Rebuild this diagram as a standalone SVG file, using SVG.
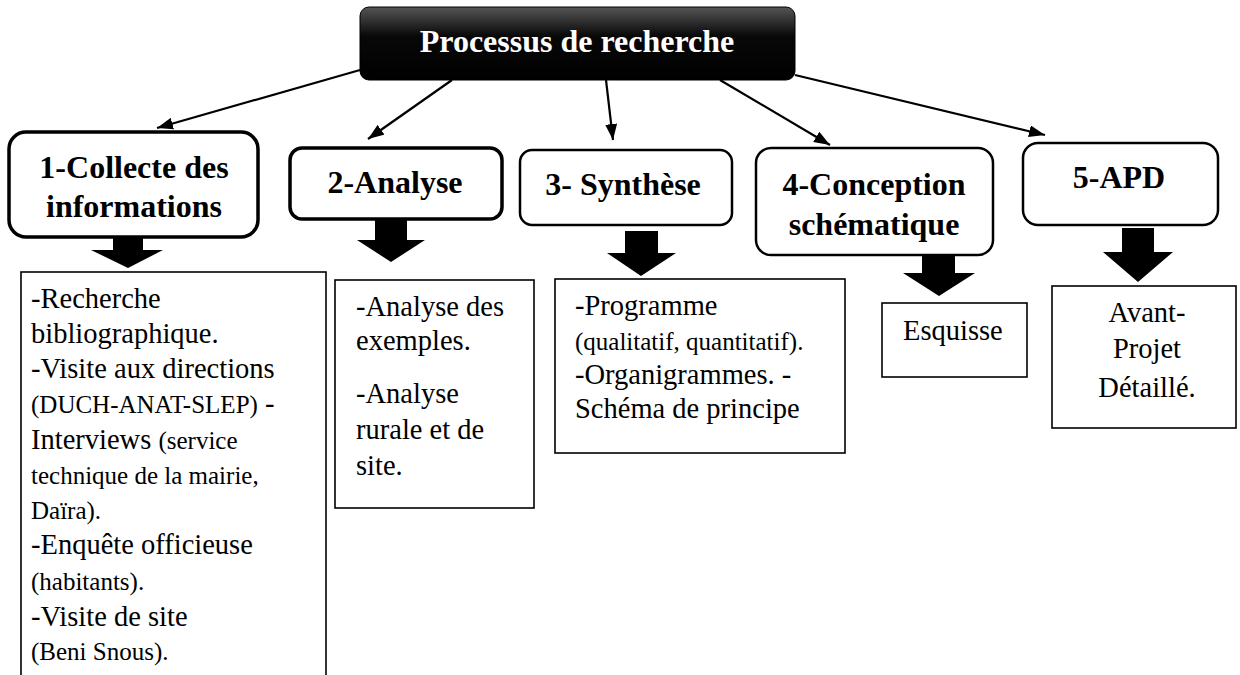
<svg xmlns="http://www.w3.org/2000/svg" width="1240" height="675" viewBox="0 0 1240 675">
<defs>
<linearGradient id="g" x1="0" y1="0" x2="0" y2="1">
<stop offset="0" stop-color="#555"/>
<stop offset="0.4" stop-color="#080808"/>
<stop offset="1" stop-color="#000"/>
</linearGradient>
<marker id="ah2" viewBox="0 0 10 10" refX="10" refY="5" markerWidth="16" markerHeight="12" markerUnits="userSpaceOnUse" orient="auto" preserveAspectRatio="none">
<path d="M0,0 L10,5 L0,10 z" fill="#000"/>
</marker>
</defs>
<rect width="1240" height="675" fill="#fff"/>

<g id="connectors" stroke="#000" stroke-width="2.2">
<path d="M360,70 L157,128" marker-end="url(#ah2)"/>
<path d="M452,80 L368,139" marker-end="url(#ah2)"/>
<path d="M606,80 L613,140" marker-end="url(#ah2)"/>
<path d="M720,80 L830,145" marker-end="url(#ah2)"/>
<path d="M795,75 L1045,135" marker-end="url(#ah2)"/>
<polygon fill="#000" stroke="none" points="113,235 143,235 143,250 163,250 128,268 91,250 113,250"/>
<polygon fill="#000" stroke="none" points="375,219 407,219 407,240 425,240 391,262 357,240 375,240"/>
<polygon fill="#000" stroke="none" points="625,231 658,231 658,253 676,253 641,276 607,253 625,253"/>
<polygon fill="#000" stroke="none" points="922,255 955,255 955,273 975,273 939,296 903,273 922,273"/>
<polygon fill="#000" stroke="none" points="1122,228 1154,228 1154,252 1173,252 1138,282 1103,252 1122,252"/>
</g>

<g id="title">
<rect x="360" y="7" width="435" height="73" rx="9" fill="url(#g)" stroke="#000" stroke-width="1"/>
<text x="577" y="52" fill="#fff" font-family="Liberation Serif" font-size="32" font-weight="bold" text-anchor="middle">Processus de recherche</text>
</g>

<g id="node1">
<rect x="9" y="132" width="249" height="105" rx="17" fill="#fff" stroke="#000" stroke-width="3.5"/>
<text x="134" y="178" font-family="Liberation Serif" font-size="32" font-weight="bold" text-anchor="middle">1-Collecte des</text>
<text x="134" y="217" font-family="Liberation Serif" font-size="32" font-weight="bold" text-anchor="middle">informations</text>
</g>
<g id="node2">
<rect x="290" y="148" width="212" height="71" rx="12" fill="#fff" stroke="#000" stroke-width="3.5"/>
<text x="395" y="193" font-family="Liberation Serif" font-size="32" font-weight="bold" text-anchor="middle">2-Analyse</text>
</g>
<g id="node3">
<rect x="520" y="150" width="212" height="75" rx="12" fill="#fff" stroke="#000" stroke-width="2.5"/>
<text x="623" y="195" font-family="Liberation Serif" font-size="32" font-weight="bold" text-anchor="middle">3- Synthèse</text>
</g>
<g id="node4">
<rect x="756" y="148" width="237" height="107" rx="15" fill="#fff" stroke="#000" stroke-width="2.5"/>
<text x="874" y="195" font-family="Liberation Serif" font-size="32" font-weight="bold" text-anchor="middle">4-Conception</text>
<text x="874" y="235" font-family="Liberation Serif" font-size="32" font-weight="bold" text-anchor="middle">schématique</text>
</g>
<g id="node5">
<rect x="1023" y="143" width="195" height="82" rx="15" fill="#fff" stroke="#000" stroke-width="2.5"/>
<text x="1119" y="188" font-family="Liberation Serif" font-size="32" font-weight="bold" text-anchor="middle">5-APD</text>
</g>

<g id="box1">
<rect x="21" y="272" width="305" height="420" fill="#fff" stroke="#000" stroke-width="1.6"/>
<text x="31" y="308" font-family="Liberation Serif" font-size="28.5">-Recherche</text>
<text x="31" y="343" font-family="Liberation Serif" font-size="28.5">bibliographique.</text>
<text x="31" y="378" font-family="Liberation Serif" font-size="28.5">-Visite aux directions</text>
<text x="31" y="413" font-family="Liberation Serif" font-size="25">(DUCH-ANAT-SLEP)<tspan font-size="28.5"> -</tspan></text>
<text x="31" y="449" font-family="Liberation Serif" font-size="28.5">Interviews <tspan font-size="25">(service</tspan></text>
<text x="31" y="484" font-family="Liberation Serif" font-size="25">technique de la mairie,</text>
<text x="31" y="519" font-family="Liberation Serif" font-size="25">Daïra).</text>
<text x="31" y="554" font-family="Liberation Serif" font-size="28.5">-Enquête officieuse</text>
<text x="31" y="590" font-family="Liberation Serif" font-size="25">(habitants).</text>
<text x="31" y="626" font-family="Liberation Serif" font-size="28.5">-Visite de site</text>
<text x="31" y="660" font-family="Liberation Serif" font-size="25">(Beni Snous).</text>
</g>

<g id="box2">
<rect x="335" y="280" width="199" height="228" fill="#fff" stroke="#000" stroke-width="1.6"/>
<text x="356" y="316" font-family="Liberation Serif" font-size="28.5">-Analyse des</text>
<text x="356" y="350" font-family="Liberation Serif" font-size="28.5">exemples.</text>
<text x="356" y="403" font-family="Liberation Serif" font-size="28.5">-Analyse</text>
<text x="356" y="439" font-family="Liberation Serif" font-size="28.5">rurale et de</text>
<text x="356" y="475" font-family="Liberation Serif" font-size="28.5">site.</text>
</g>

<g id="box3">
<rect x="555" y="279" width="290" height="174" fill="#fff" stroke="#000" stroke-width="1.6"/>
<text x="575" y="315" font-family="Liberation Serif" font-size="28.5">-Programme</text>
<text x="575" y="350" font-family="Liberation Serif" font-size="25">(qualitatif, quantitatif).</text>
<text x="575" y="384" font-family="Liberation Serif" font-size="28.5">-Organigrammes. -</text>
<text x="575" y="418" font-family="Liberation Serif" font-size="28.5">Schéma de principe</text>
</g>

<g id="box4">
<rect x="882" y="303" width="145" height="74" fill="#fff" stroke="#000" stroke-width="1.6"/>
<text x="903" y="340" font-family="Liberation Serif" font-size="28.5">Esquisse</text>
</g>

<g id="box5">
<rect x="1052" y="286" width="184" height="142" fill="#fff" stroke="#000" stroke-width="1.6"/>
<text x="1147" y="322" font-family="Liberation Serif" font-size="28.5" text-anchor="middle">Avant-</text>
<text x="1147" y="358" font-family="Liberation Serif" font-size="28.5" text-anchor="middle">Projet</text>
<text x="1147" y="397" font-family="Liberation Serif" font-size="28.5" text-anchor="middle">Détaillé.</text>
</g>
</svg>
